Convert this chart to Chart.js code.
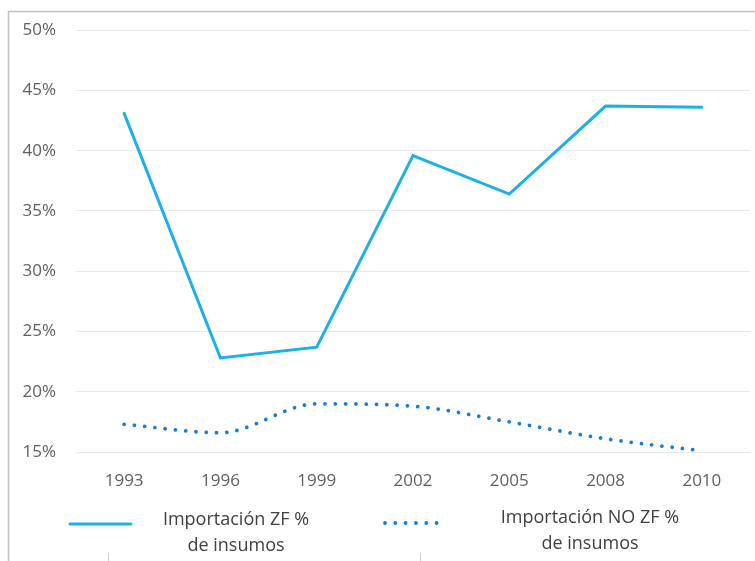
<!DOCTYPE html>
<html>
<head>
<meta charset="utf-8">
<script src="https://cdn.jsdelivr.net/npm/chart.js@4.4.1/dist/chart.umd.min.js"></script>
<style>
  html, body { margin: 0; padding: 0; background: #fff; }
  #wrap { width: 755px; height: 561px; position: relative; }
</style>
</head>
<body>
<div id="wrap"><canvas id="c"></canvas></div>
<script>
// years on the x axis
const years = ['1993', '1996', '1999', '2002', '2005', '2008', '2010'];
// share of inputs imported, in percent
const zfValues = [43.1, 22.8, 23.7, 39.6, 36.4, 43.7, 43.6];
const noZfValues = [17.3, 16.6, 19.0, 18.8, 17.5, 16.1, 15.1];
const seriesNames = [['Importación ZF %', 'de insumos'], ['Importación NO ZF %', 'de insumos']];
const yMin = 15, yMax = 50, yStep = 5;

const FONT = '"Open Sans", "Noto Sans", sans-serif';

// frame + bottom legend, drawn by hand so the labels can wrap and centre
const frameAndLegend = {
  id: 'frameAndLegend',
  afterDraw(chart) {
    const ctx = chart.ctx;
    ctx.save();
    ctx.strokeStyle = '#c0c0c0';
    ctx.lineWidth = 1.5;
    ctx.beginPath();
    ctx.moveTo(8.5, 561);
    ctx.lineTo(8.5, 11.5);
    ctx.lineTo(755, 11.5);
    ctx.stroke();

    // faint marks at the bottom edge
    ctx.strokeStyle = '#d0d0d0';
    ctx.lineWidth = 1;
    ctx.beginPath();
    ctx.moveTo(108.5, 553); ctx.lineTo(108.5, 561);
    ctx.moveTo(420.5, 553); ctx.lineTo(420.5, 561);
    ctx.stroke();

    const items = [
      { x0: 70, x1: 131, y: 524, tx: 236, ty: 520 },
      { x0: 385, x1: 440, y: 523, tx: 590, ty: 518 }
    ];
    items.forEach((it, i) => {
      const ds = chart.data.datasets[i];
      ctx.strokeStyle = ds.borderColor;
      ctx.lineWidth = ds.borderWidth;
      ctx.lineCap = ds.borderCapStyle || 'butt';
      ctx.setLineDash(ds.borderDash || []);
      ctx.beginPath();
      ctx.moveTo(it.x0, it.y);
      ctx.lineTo(it.x1, it.y);
      ctx.stroke();
      ctx.setLineDash([]);

      ctx.fillStyle = '#404040';
      ctx.font = '18px ' + FONT;
      ctx.textAlign = 'center';
      ctx.textBaseline = 'middle';
      seriesNames[i].forEach((line, k) => {
        ctx.fillText(line, it.tx, it.ty + k * 26);
      });
    });
    ctx.restore();
  }
};

new Chart(document.getElementById('c'), {
  type: 'line',
  data: {
    labels: years,
    datasets: [
      {
        label: seriesNames[0].join(' '),
        data: zfValues,
        borderColor: '#1cb0e6',
        borderWidth: 3,
        borderCapStyle: 'round',
        pointRadius: 0,
        tension: 0,
        fill: false
      },
      {
        label: seriesNames[1].join(' '),
        data: noZfValues,
        borderColor: '#1a7ccc',
        borderWidth: 3.8,
        borderCapStyle: 'round',
        borderDash: [0.01, 10.3],
        pointRadius: 0,
        cubicInterpolationMode: 'monotone',
        fill: false
      }
    ]
  },
  options: {
    responsive: true,
    maintainAspectRatio: false,
    animation: false,
    layout: { padding: { left: 8, right: 5, top: 30, bottom: 69 } },
    plugins: {
      legend: { display: false },
      tooltip: { enabled: false }
    },
    scales: {
      x: {
        offset: true,
        grid: { display: false, drawTicks: false, offset: true },
        border: { display: false },
        ticks: { color: '#606060', font: { family: FONT, size: 17 }, padding: 19 },
        afterFit(scale) { scale.height = 40; }
      },
      y: {
        min: yMin,
        max: yMax,
        grid: { color: '#e8e8e8', lineWidth: 1, drawTicks: false },
        border: { display: false },
        ticks: {
          stepSize: yStep,
          color: '#606060',
          font: { family: FONT, size: 17 },
          padding: 20,
          callback: v => v + '%'
        },
        afterFit(scale) { scale.width = 68; }
      }
    }
  },
  plugins: [frameAndLegend]
});
</script>
</body>
</html>
